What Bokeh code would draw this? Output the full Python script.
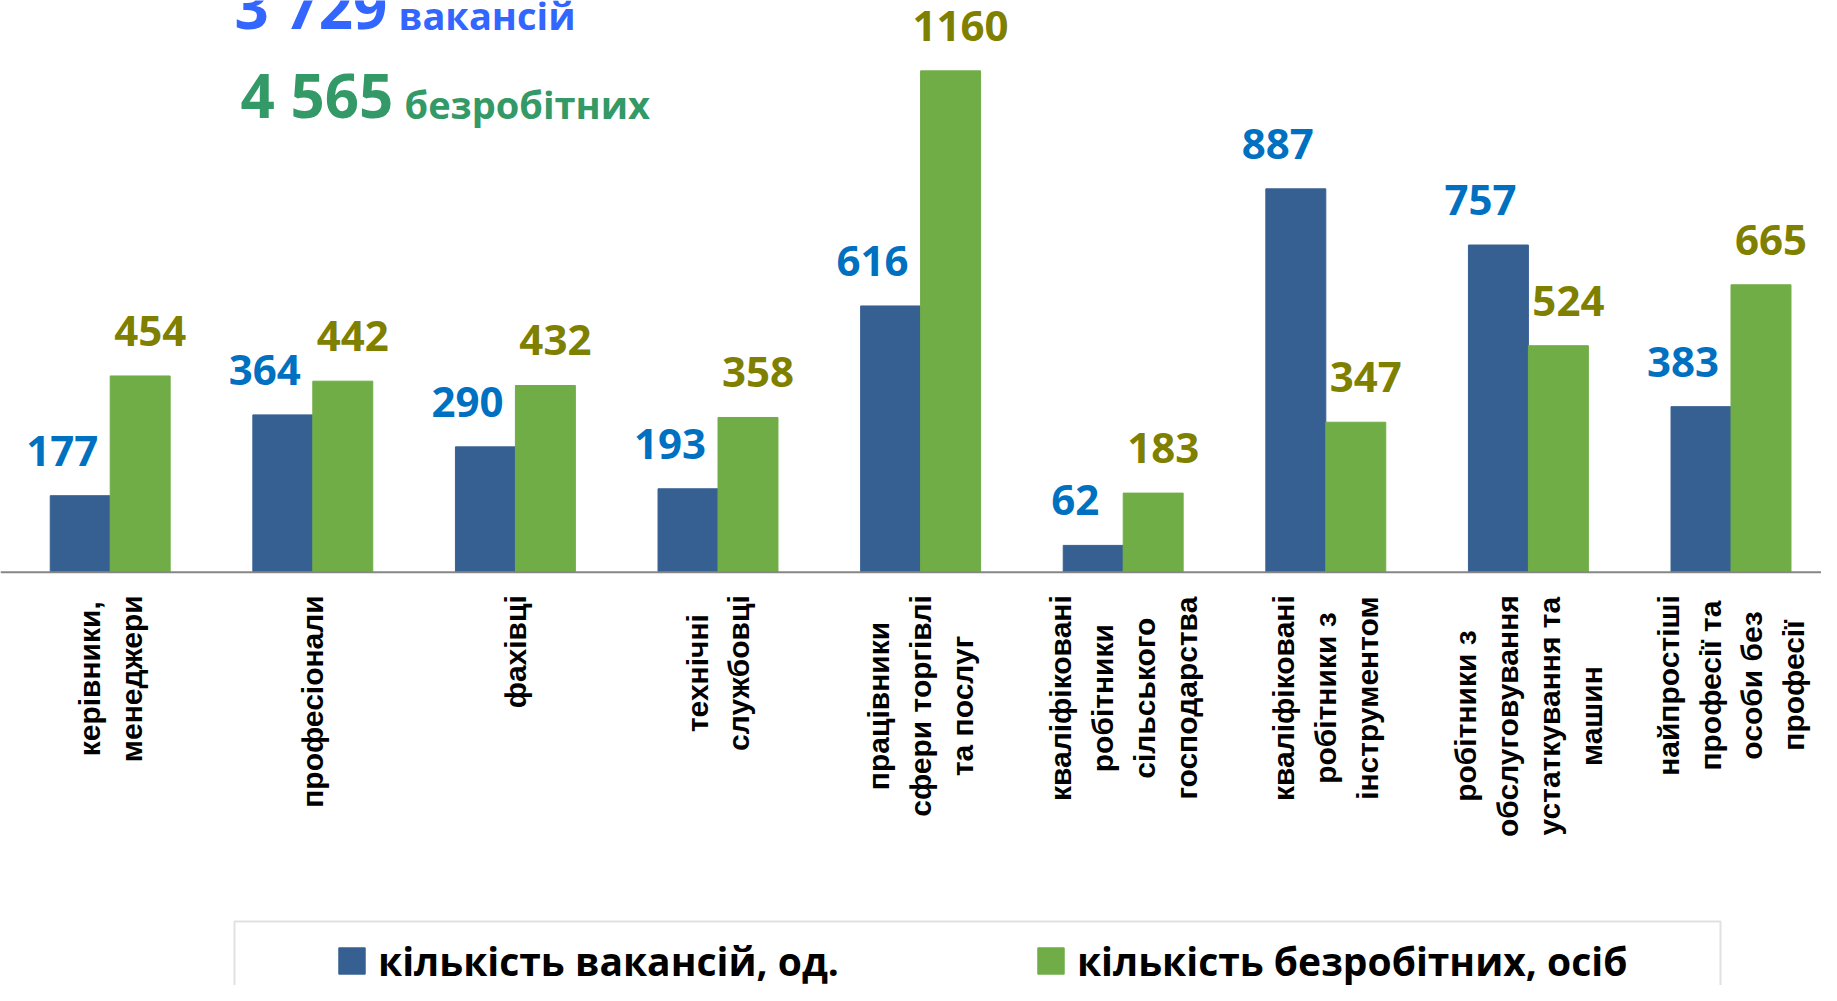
import numpy as np
from bokeh.plotting import figure
from bokeh.models import Range1d, Span, Label, BoxAnnotation, ColumnDataSource
from bokeh.core.properties import value
from bokeh.embed import file_html
from bokeh.resources import INLINE

# ---- data ----
categories = [
    "керівники,\nменеджери",
    "професіонали",
    "фахівці",
    "технічні\nслужбовці",
    "працівники\nсфери торгівлі\nта послуг",
    "кваліфіковані\nробітники\nсільського\nгосподарства",
    "кваліфіковані\nробітники з\nінструментом",
    "робітники з\nобслуговування\nустаткування та\nмашин",
    "найпростіші\nпрофесії та\nособи без\nпрофесії",
]
vacancies = [177, 364, 290, 193, 616, 62, 887, 757, 383]
unemployed = [454, 442, 432, 358, 1160, 183, 347, 524, 665]
series_names = ["кількість вакансій, од.", "кількість безробітних, осіб"]
total_words = ["вакансій", "безробітних"]

# ---- layout constants ----
W, H = 1821, 985
BASE = 571.7          # canvas y of the zero line
PX = 0.4322           # pixels per value unit
CAT_W = 202.6         # pixels per category
X0 = -8.4 / CAT_W


def ydata(cy):
    return (BASE - cy) / PX


def xdata(cx):
    return X0 + cx / CAT_W


def fmt(n):
    return f"{n:,}".replace(",", " ")


p = figure(width=W, height=H,
           x_range=Range1d(X0, X0 + W / CAT_W),
           y_range=Range1d(-(H - BASE) / PX, BASE / PX),
           output_backend="svg", toolbar_location=None,
           x_axis_location=None, y_axis_location=None,
           min_border=0, outline_line_color=None)
p.grid.visible = False

BW = 0.296
xc = np.arange(len(categories)) + 0.5
source = ColumnDataSource(dict(
    cat=categories, xc=xc, xv=xc - BW / 2, xu=xc + BW / 2,
    vac=vacancies, unemp=unemployed,
    vac_txt=[str(v) for v in vacancies], unemp_txt=[str(v) for v in unemployed],
))

p.vbar(x="xv", top="vac", width=BW, color="#376092", source=source,
       legend_label=series_names[0])
p.vbar(x="xu", top="unemp", width=BW, color="#70AD47", source=source,
       legend_label=series_names[1])

p.add_layout(Span(location=0, dimension="width", line_color="#868686", line_width=2))

num_font = dict(text_font=value("Open Sans"), text_font_style="bold",
                text_font_size="42px", text_align="center",
                text_baseline="middle", y_offset=-45)
p.text(x="xv", y="vac", text="vac_txt", source=source,
       text_color="#0070C0", x_offset=-18, **num_font)
p.text(x="xu", y="unemp", text="unemp_txt", source=source,
       text_color="#7F7F00", x_offset=10, **num_font)

# category labels (rotated)
p.text(x="xc", y=0, text="cat", source=source, angle=np.pi / 2,
       anchor="center_right", text_align="center", text_baseline="middle",
       y_offset=23, text_line_height=1.27,
       text_font=value("Liberation Sans"), text_font_style="bold",
       text_font_size="30px", text_color="black")

# totals
totals = [sum(vacancies), sum(unemployed)]
tot_style = dict(text_font="Open Sans", text_font_style="bold", text_baseline="middle")
p.add_layout(Label(x=xdata(234), y=ydata(5), text=fmt(totals[0]),
                   text_font_size="60px", text_color="#3366FF", **tot_style))
p.add_layout(Label(x=xdata(398), y=ydata(14), text=total_words[0],
                   text_font_size="38px", text_color="#3366FF", **tot_style))
p.add_layout(Label(x=xdata(240), y=ydata(94), text=fmt(totals[1]),
                   text_font_size="60px", text_color="#339966", **tot_style))
p.add_layout(Label(x=xdata(404), y=ydata(103), text=total_words[1],
                   text_font_size="38px", text_color="#339966", **tot_style))

# legend frame
p.add_layout(BoxAnnotation(left=xdata(234), right=xdata(1720),
                           top=ydata(921), bottom=ydata(1100),
                           fill_alpha=0, line_color="#9a9a9a", line_width=2))

lg = p.legend[0]
lg.orientation = "horizontal"
lg.location = (335, -2)
lg.label_text_font = "Open Sans"
lg.label_text_font_style = "bold"
lg.label_text_font_size = "39px"
lg.label_text_color = "black"
lg.glyph_width = 33
lg.glyph_height = 33
lg.label_standoff = 10
lg.spacing = 195
lg.padding = 0
lg.margin = 0
lg.border_line_alpha = 0
lg.background_fill_alpha = 0

open("out.html", "w").write(file_html(p, INLINE))
